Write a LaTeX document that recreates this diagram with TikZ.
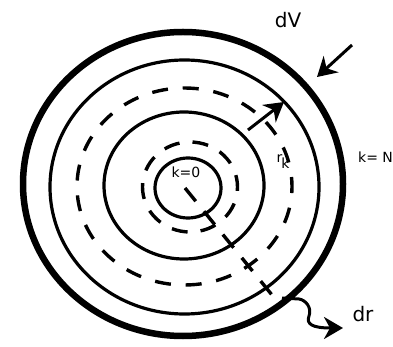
\documentclass[tikz,border=0pt]{standalone}
\usepackage{fontspec}
\setmainfont{DejaVu Sans}
\usetikzlibrary{arrows.meta,calc,positioning}
\tikzstyle{wall} = [draw, line width=6.5pt]
\tikzstyle{shell} = [draw, line width=3.2pt]
\tikzstyle{halfshell} = [draw, line width=3.4pt, dash pattern=on 16pt off 14.83pt, dash phase=6.5pt]
\tikzstyle{tag} = [inner sep=0pt, font=\fontsize{14}{16}\selectfont]
\tikzstyle{bigtag} = [inner sep=0pt, font=\fontsize{20}{23}\selectfont]
\tikzstyle{arrow} = [line width=3pt, -{Stealth[length=19pt,width=22pt,inset=6pt]}]

\begin{document}
\begin{tikzpicture}[x=1pt, y=-1pt]
\useasboundingbox (0,0) rectangle (393,347);
% shells, from the wall inwards
\coordinate (cw) at (183,184);
\coordinate (c3) at (184.5,187);
\coordinate (c2) at (184.5,186.5);
\coordinate (c1) at (184,185.5);
\coordinate (c0) at (190,187);
\draw[wall] (cw) ellipse [x radius=160pt, y radius=152pt];
\draw[shell] (c3) ellipse [x radius=134.5pt, y radius=127pt];
\draw[halfshell] (c2) ellipse [x radius=107.5pt, y radius=98.5pt];
\draw[shell] (c1) ellipse [x radius=80pt, y radius=73.5pt];
\draw[halfshell, dash pattern=on 16pt off 13.07pt, dash phase=4pt] (c0) ellipse [x radius=47.5pt, y radius=45pt];
\draw[shell] (188,188) ellipse [x radius=33pt, y radius=30pt];
% radius, from the core to the outer shell
\coordinate (rbeg) at (185,188);
\coordinate (rend) at (272,295);
\draw[halfshell, dash pattern=on 17pt off 13pt, dash phase=0pt] (rbeg) -- (rend);
% labels
\node[bigtag] (dV) at (288,20) {dV};
\node[bigtag] (dr) at (363,314) {dr};
\node[tag] (k0) at (186,172) {k=0};
\node[tag, anchor=west] (kN) at (358,157) {k= N};
\node[tag] (rk) at (283,162) {r\kern-1pt\raisebox{-6pt}{k}};
% arrows
\coordinate (dVfrom) at (352,45);
\coordinate (dVto) at (317,77);
\draw[arrow] (dVfrom) -- (dVto);
\coordinate (rkfrom) at (248,130);
\coordinate (rkto) at (284,102);
\draw[arrow] (rkfrom) -- (rkto);
\coordinate (drfrom) at (282,298);
\coordinate (drbend) at (299,299);
\coordinate (drto) at (343,328);
\draw[arrow] (drfrom) -- (drbend) .. controls (306,300) and (312,308) .. (309,316)
  .. controls (306,324) and (312,328) .. (drto);
\end{tikzpicture}
\end{document}
